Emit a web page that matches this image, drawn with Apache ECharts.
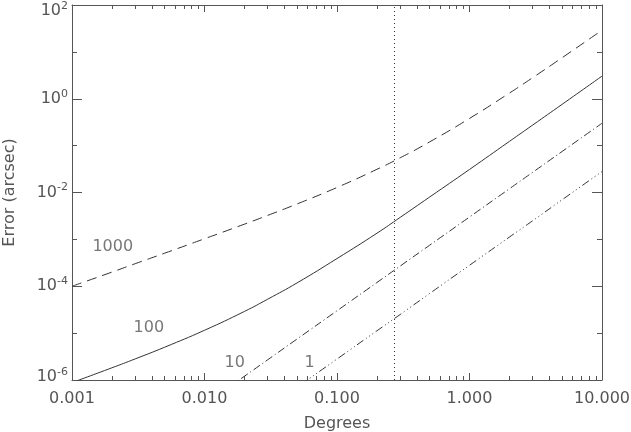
<!DOCTYPE html>
<html>
<head>
<meta charset="utf-8">
<script src="https://cdn.jsdelivr.net/npm/echarts@6/dist/echarts.min.js"></script>
<style>
  html, body { margin: 0; padding: 0; background: #fff; }
  #chart { width: 631px; height: 432px; }
</style>
</head>
<body>
<div id="chart"></div>
<script>
// x positions (degrees) shared by all curves
const degrees = [0.001, 0.002, 0.003, 0.005, 0.01, 0.02, 0.03, 0.05, 0.1, 0.2, 0.3, 0.5, 1, 2, 3, 5, 10];
// error in arcsec
const err1000 = [1.0e-4, 2.0e-4, 3.03e-4, 5.07e-4, 1.03e-3, 2.11e-3, 3.25e-3, 5.7e-3, 1.28e-2, 3.12e-2, 5.5e-2, 0.12, 0.38, 1.32, 2.82, 7.5, 29];
const err100 = [8.8e-7, 1.82e-6, 2.82e-6, 5.0e-6, 1.15e-5, 2.9e-5, 5.3e-5, 1.18e-4, 3.9e-4, 1.35e-3, 2.95e-3, 8.0e-3, 3.1e-2, 0.123, 0.275, 0.76, 3.04];
const err10 = [null, null, null, null, 3.0e-7, 1.2e-6, 2.7e-6, 7.5e-6, 3.0e-5, 1.2e-4, 2.7e-4, 7.5e-4, 3.0e-3, 1.2e-2, 2.7e-2, 7.5e-2, 0.3];
const err1 = [null, null, null, null, null, 1.12e-7, 2.5e-7, 7.0e-7, 2.8e-6, 1.12e-5, 2.5e-5, 7.0e-5, 2.8e-4, 1.12e-3, 2.5e-3, 7.0e-3, 2.8e-2];

// curve labels and where they sit
const curveNames = ['1000', '100', '10', '1'];
const labelX = [0.00203, 0.0038, 0.0169, 0.062];
const labelY = [6.8e-4, 1.3e-5, 2.36e-6, 2.36e-6];

// vertical dotted marker
const markerDegrees = 0.265;

// ticks
const xMajor = [0.001, 0.01, 0.1, 1, 10];
const xMinor = [];
[0.001, 0.01, 0.1, 1].forEach(d => {
  for (let k = 2; k <= 9; k++) xMinor.push(+(d * k).toPrecision(3));
});
const yMajor = [1e-6, 1e-4, 1e-2, 1, 100];
const yMinor = [1e-5, 1e-3, 1e-1, 10];
const yLabelsMid = [1e-4, 1e-2, 1];
const yLabelTop = [100];
const yLabelBottom = [1e-6];

const chart = echarts.init(document.getElementById('chart'));

const axisColor = '#555';
const textColor = '#555';
const lineColor = '#333';
const font = 'DejaVu Sans';

const pairs = ys => degrees.map((d, i) => [d, ys[i]]);

const xAxisBase = {
  type: 'log', logBase: 10, min: 0.001, max: 10,
  splitLine: { show: false }, minorTick: { show: false }
};
const yAxisBase = {
  type: 'log', logBase: 10, min: 1e-6, max: 100,
  splitLine: { show: false }, minorTick: { show: false }
};

const powLabel = (values, padding) => ({
  customValues: values, margin: 4, color: textColor, fontFamily: font, fontSize: 16,
  padding: padding,
  formatter: v => '10{s|' + Math.round(Math.log10(v)) + '}',
  rich: {
    s: { fontSize: 11, fontFamily: font, color: textColor, verticalAlign: 'bottom', padding: [0, 0, 10, 0] }
  }
});

const labelOnlyY = (values, padding) => ({
  ...yAxisBase, position: 'left',
  axisLine: { show: false },
  axisTick: { show: false },
  axisLabel: powLabel(values, padding)
});

const option = {
  animation: false,
  backgroundColor: '#fff',
  grid: { left: 72, right: 29, top: 5, bottom: 52, outerBoundsMode: 'none' },
  xAxis: [
    {
      ...xAxisBase, position: 'bottom',
      axisLine: { lineStyle: { color: axisColor, width: 1 } },
      axisTick: { inside: true, length: 7, customValues: xMajor, lineStyle: { color: axisColor } },
      axisLabel: {
        customValues: xMajor, margin: 11, color: textColor, fontFamily: font, fontSize: 16,
        formatter: v => Number(v).toFixed(3)
      },
      name: 'Degrees', nameLocation: 'middle', nameGap: 36,
      nameTextStyle: { color: textColor, fontFamily: font, fontSize: 16 }
    },
    {
      ...xAxisBase, position: 'bottom',
      axisLine: { show: false },
      axisTick: { inside: true, length: 4, customValues: xMinor, lineStyle: { color: axisColor } },
      axisLabel: { show: false }
    },
    {
      ...xAxisBase, position: 'top',
      axisLine: { lineStyle: { color: axisColor, width: 1 } },
      axisTick: { inside: true, length: 7, customValues: xMajor, lineStyle: { color: axisColor } },
      axisLabel: { show: false }
    },
    {
      ...xAxisBase, position: 'top',
      axisLine: { show: false },
      axisTick: { inside: true, length: 4, customValues: xMinor, lineStyle: { color: axisColor } },
      axisLabel: { show: false }
    }
  ],
  yAxis: [
    {
      ...yAxisBase, position: 'left',
      axisLine: { lineStyle: { color: axisColor, width: 1 } },
      axisTick: { inside: true, length: 10, customValues: yMajor, lineStyle: { color: axisColor } },
      axisLabel: powLabel(yLabelsMid, [0, 0, 0, 0]),
      name: 'Error (arcsec)', nameLocation: 'middle', nameGap: 54,
      nameTextStyle: { color: textColor, fontFamily: font, fontSize: 16 }
    },
    labelOnlyY(yLabelTop, [12, 0, 0, 0]),
    labelOnlyY(yLabelBottom, [0, 0, 6, 0]),
    {
      ...yAxisBase, position: 'left',
      axisLine: { show: false },
      axisTick: { inside: true, length: 5, customValues: yMinor, lineStyle: { color: axisColor } },
      axisLabel: { show: false }
    },
    {
      ...yAxisBase, position: 'right',
      axisLine: { lineStyle: { color: axisColor, width: 1 } },
      axisTick: { inside: true, length: 10, customValues: yMajor, lineStyle: { color: axisColor } },
      axisLabel: { show: false }
    },
    {
      ...yAxisBase, position: 'right',
      axisLine: { show: false },
      axisTick: { inside: true, length: 5, customValues: yMinor, lineStyle: { color: axisColor } },
      axisLabel: { show: false }
    }
  ],
  series: [
    {
      name: '1000', type: 'line', data: pairs(err1000), smooth: true, showSymbol: false,
      lineStyle: { color: lineColor, width: 1, type: [10, 6] }
    },
    {
      name: '100', type: 'line', data: pairs(err100), smooth: true, showSymbol: false,
      lineStyle: { color: lineColor, width: 1 },
      markLine: {
        silent: true, symbol: 'none', label: { show: false },
        lineStyle: { color: lineColor, width: 1, type: [1, 3] },
        data: [{ xAxis: markerDegrees }]
      }
    },
    {
      name: '10', type: 'line', data: pairs(err10), smooth: true, showSymbol: false,
      lineStyle: { color: lineColor, width: 1, type: [8, 3, 1, 3] }
    },
    {
      name: '1', type: 'line', data: pairs(err1), smooth: true, showSymbol: false,
      lineStyle: { color: lineColor, width: 1, type: [8, 3, 1, 3, 1, 3, 1, 3] }
    },
    {
      type: 'scatter', symbolSize: 0, silent: true,
      data: labelX.map((x, i) => [x, labelY[i]]),
      label: {
        show: true, position: 'inside', color: textColor, fontFamily: font, fontSize: 16,
        formatter: p => curveNames[p.dataIndex]
      }
    }
  ]
};

chart.setOption(option);
</script>
</body>
</html>
